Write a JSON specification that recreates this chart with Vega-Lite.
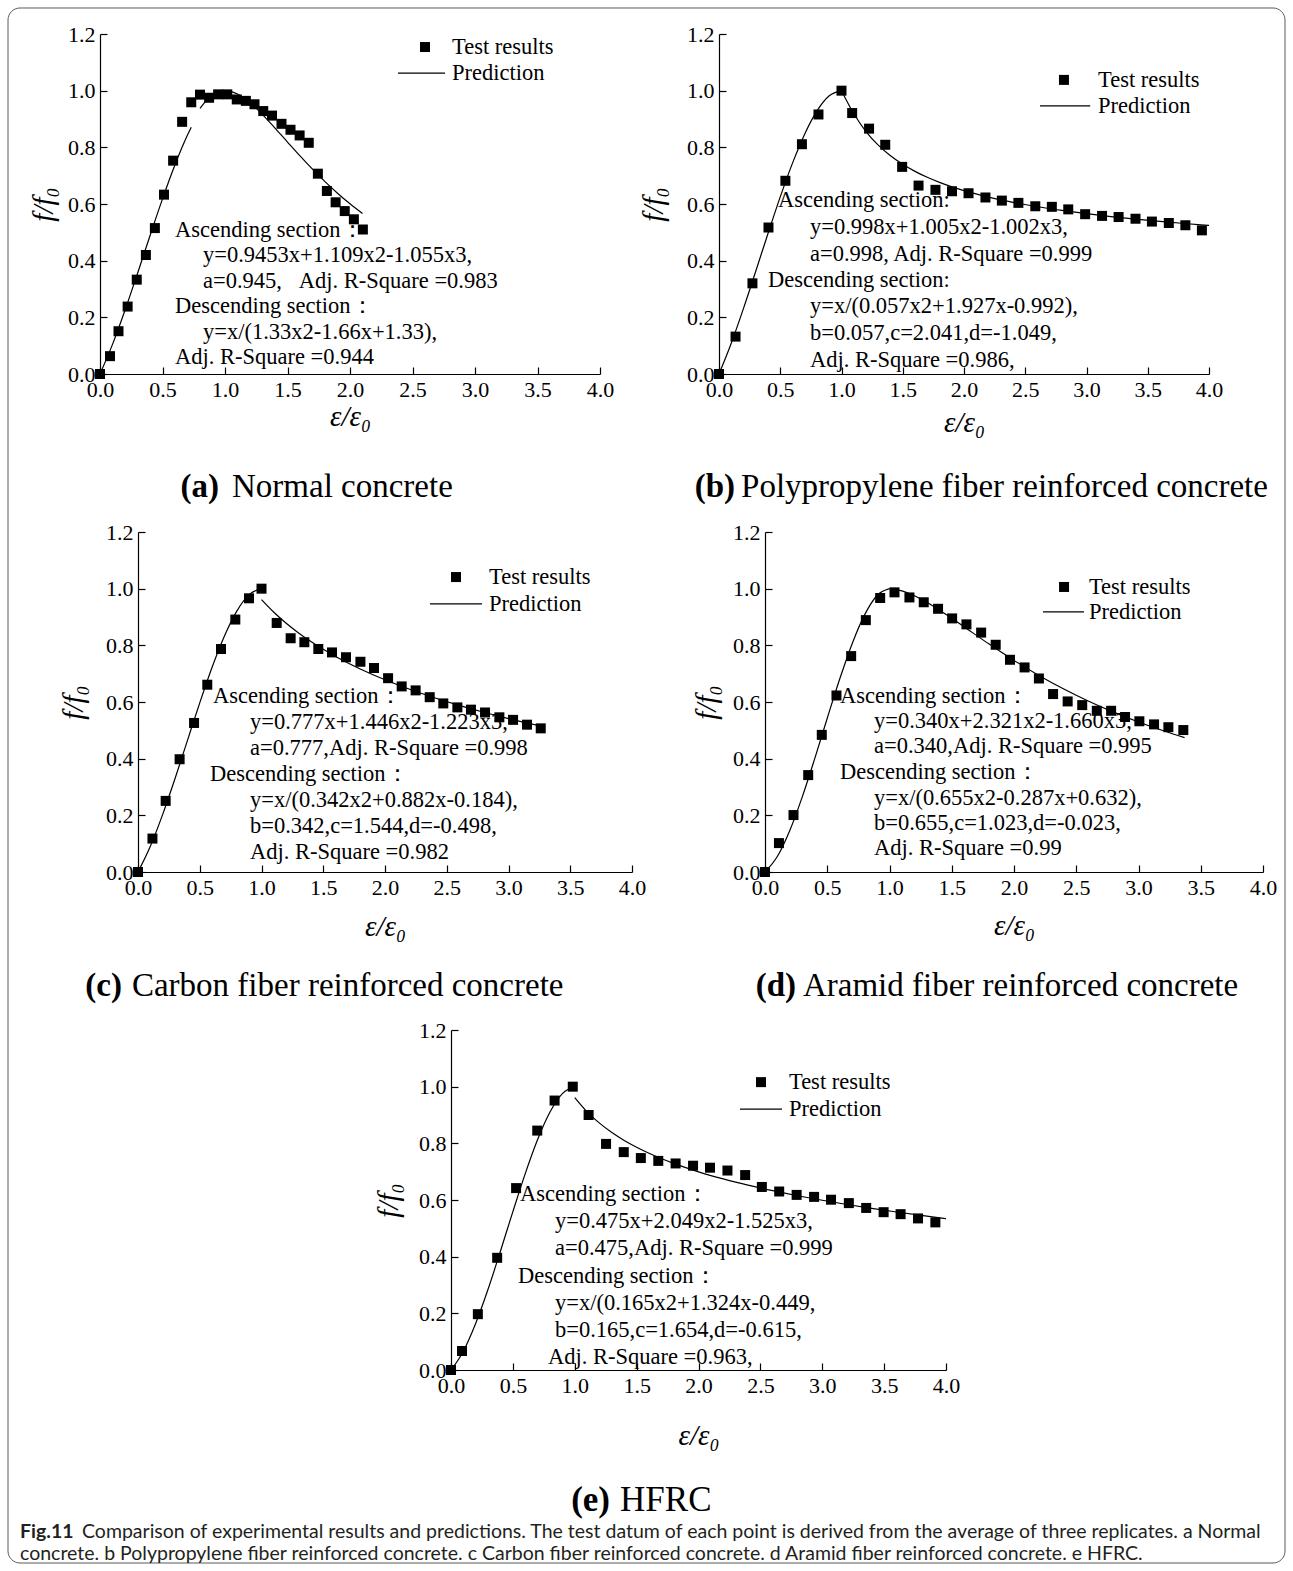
{
  "$schema": "https://vega.github.io/schema/vega-lite/v6.json",
  "padding": 7,
  "background": "white",
  "spacing": 498,
  "bounds": "flush",
  "datasets": {
    "a_test": [
      {"x":0,"y":0},{"x":0.08,"y":0.063},{"x":0.148,"y":0.151},{"x":0.221,"y":0.238},{"x":0.294,"y":0.333},{"x":0.367,"y":0.42},{"x":0.439,"y":0.515},{"x":0.512,"y":0.633},{"x":0.585,"y":0.753},{"x":0.657,"y":0.89},{"x":0.73,"y":0.959},{"x":0.8,"y":0.986},{"x":0.873,"y":0.975},{"x":0.945,"y":0.987},{"x":1.018,"y":0.987},{"x":1.094,"y":0.969},{"x":1.167,"y":0.964},{"x":1.236,"y":0.952},{"x":1.306,"y":0.928},{"x":1.376,"y":0.912},{"x":1.452,"y":0.883},{"x":1.524,"y":0.862},{"x":1.597,"y":0.842},{"x":1.67,"y":0.816},{"x":1.743,"y":0.707},{"x":1.815,"y":0.646},{"x":1.885,"y":0.606},{"x":1.958,"y":0.575},{"x":2.031,"y":0.546},{"x":2.103,"y":0.51}
    ],
    "a_pred": [
      {"x":0,"y":0,"s":"asc"},{"x":0.1,"y":0.1046,"s":"asc"},{"x":0.2,"y":0.225,"s":"asc"},{"x":0.3,"y":0.3549,"s":"asc"},{"x":0.4,"y":0.488,"s":"asc"},{"x":0.5,"y":0.618,"s":"asc"},{"x":0.6,"y":0.7385,"s":"asc"},{"x":0.7,"y":0.8433,"s":"asc"},{"x":0.73,"y":0.8706,"s":"asc"},
      {"x":0.8,"y":0.9377,"s":"desc"},{"x":0.9,"y":0.9854,"s":"desc"},{"x":1.0,"y":1.0,"s":"desc"},{"x":1.1,"y":0.988,"s":"desc"},{"x":1.2,"y":0.9575,"s":"desc"},{"x":1.3,"y":0.9157,"s":"desc"},{"x":1.4,"y":0.8681,"s":"desc"},{"x":1.5,"y":0.8186,"s":"desc"},{"x":1.6,"y":0.7697,"s":"desc"},{"x":1.7,"y":0.7229,"s":"desc"},{"x":1.8,"y":0.6789,"s":"desc"},{"x":1.9,"y":0.6382,"s":"desc"},{"x":2.0,"y":0.6006,"s":"desc"},{"x":2.1,"y":0.5662,"s":"desc"}
    ],
    "b_test": [
      {"x":0,"y":0},{"x":0.135,"y":0.132},{"x":0.273,"y":0.32},{"x":0.404,"y":0.517},{"x":0.542,"y":0.682},{"x":0.677,"y":0.811},{"x":0.812,"y":0.916},{"x":1.0,"y":1.0},{"x":1.087,"y":0.921},{"x":1.225,"y":0.866},{"x":1.357,"y":0.809},{"x":1.495,"y":0.731},{"x":1.629,"y":0.665},{"x":1.767,"y":0.65},{"x":1.902,"y":0.645},{"x":2.037,"y":0.638},{"x":2.175,"y":0.623},{"x":2.309,"y":0.612},{"x":2.444,"y":0.604},{"x":2.582,"y":0.592},{"x":2.717,"y":0.59},{"x":2.851,"y":0.581},{"x":2.989,"y":0.564},{"x":3.127,"y":0.558},{"x":3.262,"y":0.554},{"x":3.4,"y":0.548},{"x":3.534,"y":0.538},{"x":3.672,"y":0.533},{"x":3.807,"y":0.525},{"x":3.942,"y":0.507}
    ],
    "b_pred": [
      {"x":0,"y":0,"s":"asc"},{"x":0.1,"y":0.1088,"s":"asc"},{"x":0.2,"y":0.2318,"s":"asc"},{"x":0.3,"y":0.3628,"s":"asc"},{"x":0.4,"y":0.4959,"s":"asc"},{"x":0.5,"y":0.625,"s":"asc"},{"x":0.6,"y":0.7442,"s":"asc"},{"x":0.7,"y":0.8474,"s":"asc"},{"x":0.8,"y":0.9286,"s":"asc"},{"x":0.9,"y":0.9818,"s":"asc"},{"x":1.0,"y":1.0,"s":"asc"},
      {"x":1.0,"y":1.0,"s":"desc"},{"x":1.1,"y":0.9192,"s":"desc"},{"x":1.2,"y":0.8556,"s":"desc"},{"x":1.3,"y":0.8077,"s":"desc"},{"x":1.4,"y":0.7703,"s":"desc"},{"x":1.5,"y":0.7401,"s":"desc"},{"x":1.6,"y":0.7152,"s":"desc"},{"x":1.7,"y":0.6943,"s":"desc"},{"x":1.8,"y":0.6764,"s":"desc"},{"x":2.0,"y":0.6472,"s":"desc"},{"x":2.2,"y":0.6244,"s":"desc"},{"x":2.4,"y":0.6059,"s":"desc"},{"x":2.6,"y":0.5904,"s":"desc"},{"x":2.8,"y":0.5773,"s":"desc"},{"x":3.0,"y":0.5658,"s":"desc"},{"x":3.2,"y":0.5557,"s":"desc"},{"x":3.4,"y":0.5467,"s":"desc"},{"x":3.6,"y":0.5386,"s":"desc"},{"x":3.8,"y":0.5312,"s":"desc"},{"x":4.0,"y":0.5244,"s":"desc"}
    ],
    "c_test": [
      {"x":0,"y":0},{"x":0.117,"y":0.118},{"x":0.224,"y":0.251},{"x":0.337,"y":0.398},{"x":0.454,"y":0.526},{"x":0.561,"y":0.661},{"x":0.672,"y":0.787},{"x":0.788,"y":0.891},{"x":0.899,"y":0.966},{"x":1.0,"y":1.0},{"x":1.123,"y":0.879},{"x":1.236,"y":0.825},{"x":1.347,"y":0.811},{"x":1.46,"y":0.787},{"x":1.571,"y":0.775},{"x":1.684,"y":0.758},{"x":1.801,"y":0.742},{"x":1.911,"y":0.72},{"x":2.025,"y":0.684},{"x":2.135,"y":0.655},{"x":2.248,"y":0.641},{"x":2.362,"y":0.617},{"x":2.472,"y":0.595},{"x":2.586,"y":0.581},{"x":2.696,"y":0.573},{"x":2.81,"y":0.563},{"x":2.926,"y":0.546},{"x":3.037,"y":0.537},{"x":3.15,"y":0.52},{"x":3.261,"y":0.507}
    ],
    "c_pred": [
      {"x":0,"y":0,"s":"asc"},{"x":0.1,"y":0.0909,"s":"asc"},{"x":0.2,"y":0.2035,"s":"asc"},{"x":0.3,"y":0.3302,"s":"asc"},{"x":0.4,"y":0.4639,"s":"asc"},{"x":0.5,"y":0.5971,"s":"asc"},{"x":0.6,"y":0.7226,"s":"asc"},{"x":0.7,"y":0.833,"s":"asc"},{"x":0.8,"y":0.9209,"s":"asc"},{"x":0.9,"y":0.979,"s":"asc"},{"x":1.0,"y":1.0,"s":"asc"},
      {"x":1.0,"y":0.9615,"s":"desc"},{"x":1.1,"y":0.9167,"s":"desc"},{"x":1.2,"y":0.8779,"s":"desc"},{"x":1.3,"y":0.8438,"s":"desc"},{"x":1.4,"y":0.8134,"s":"desc"},{"x":1.5,"y":0.786,"s":"desc"},{"x":1.6,"y":0.7609,"s":"desc"},{"x":1.8,"y":0.7167,"s":"desc"},{"x":2.0,"y":0.6784,"s":"desc"},{"x":2.2,"y":0.6448,"s":"desc"},{"x":2.4,"y":0.615,"s":"desc"},{"x":2.6,"y":0.5881,"s":"desc"},{"x":2.8,"y":0.5637,"s":"desc"},{"x":3.0,"y":0.5415,"s":"desc"},{"x":3.2,"y":0.5211,"s":"desc"},{"x":3.27,"y":0.5144,"s":"desc"}
    ],
    "d_test": [
      {"x":0,"y":0},{"x":0.112,"y":0.102},{"x":0.229,"y":0.201},{"x":0.347,"y":0.342},{"x":0.456,"y":0.484},{"x":0.574,"y":0.623},{"x":0.692,"y":0.762},{"x":0.81,"y":0.889},{"x":0.925,"y":0.967},{"x":1.04,"y":0.987},{"x":1.16,"y":0.969},{"x":1.275,"y":0.952},{"x":1.39,"y":0.929},{"x":1.503,"y":0.895},{"x":1.618,"y":0.874},{"x":1.736,"y":0.845},{"x":1.853,"y":0.802},{"x":1.968,"y":0.749},{"x":2.085,"y":0.722},{"x":2.2,"y":0.683},{"x":2.314,"y":0.628},{"x":2.431,"y":0.602},{"x":2.548,"y":0.589},{"x":2.665,"y":0.569},{"x":2.78,"y":0.569},{"x":2.892,"y":0.547},{"x":3.007,"y":0.532},{"x":3.125,"y":0.521},{"x":3.24,"y":0.511},{"x":3.36,"y":0.501}
    ],
    "d_pred": [
      {"x":0,"y":0,"s":"asc"},{"x":0.1,"y":0.0556,"s":"asc"},{"x":0.2,"y":0.1476,"s":"asc"},{"x":0.3,"y":0.2661,"s":"asc"},{"x":0.4,"y":0.4011,"s":"asc"},{"x":0.5,"y":0.5428,"s":"asc"},{"x":0.6,"y":0.681,"s":"asc"},{"x":0.7,"y":0.8059,"s":"asc"},{"x":0.8,"y":0.9075,"s":"asc"},{"x":0.9,"y":0.9759,"s":"asc"},{"x":1.0,"y":1.0,"s":"asc"},
      {"x":1.0,"y":1.0,"s":"desc"},{"x":1.1,"y":0.992,"s":"desc"},{"x":1.2,"y":0.975,"s":"desc"},{"x":1.3,"y":0.9518,"s":"desc"},{"x":1.4,"y":0.9247,"s":"desc"},{"x":1.5,"y":0.8954,"s":"desc"},{"x":1.6,"y":0.8651,"s":"desc"},{"x":1.8,"y":0.8044,"s":"desc"},{"x":2.0,"y":0.7468,"s":"desc"},{"x":2.2,"y":0.6938,"s":"desc"},{"x":2.4,"y":0.6459,"s":"desc"},{"x":2.6,"y":0.6027,"s":"desc"},{"x":2.8,"y":0.5641,"s":"desc"},{"x":3.0,"y":0.5295,"s":"desc"},{"x":3.2,"y":0.4984,"s":"desc"},{"x":3.37,"y":0.4744,"s":"desc"}
    ],
    "e_test": [
      {"x":0,"y":0},{"x":0.089,"y":0.067},{"x":0.217,"y":0.197},{"x":0.373,"y":0.396},{"x":0.526,"y":0.642},{"x":0.697,"y":0.845},{"x":0.837,"y":0.951},{"x":0.984,"y":1.0},{"x":1.112,"y":0.9},{"x":1.253,"y":0.798},{"x":1.396,"y":0.769},{"x":1.534,"y":0.748},{"x":1.675,"y":0.738},{"x":1.815,"y":0.729},{"x":1.956,"y":0.721},{"x":2.093,"y":0.714},{"x":2.234,"y":0.704},{"x":2.377,"y":0.688},{"x":2.512,"y":0.646},{"x":2.652,"y":0.63},{"x":2.793,"y":0.618},{"x":2.934,"y":0.611},{"x":3.071,"y":0.601},{"x":3.215,"y":0.589},{"x":3.355,"y":0.572},{"x":3.496,"y":0.557},{"x":3.633,"y":0.55},{"x":3.774,"y":0.535},{"x":3.914,"y":0.521}
    ],
    "e_pred": [
      {"x":0,"y":0,"s":"asc"},{"x":0.1,"y":0.0665,"s":"asc"},{"x":0.2,"y":0.1648,"s":"asc"},{"x":0.3,"y":0.2857,"s":"asc"},{"x":0.4,"y":0.4202,"s":"asc"},{"x":0.5,"y":0.5591,"s":"asc"},{"x":0.6,"y":0.6932,"s":"asc"},{"x":0.7,"y":0.8134,"s":"asc"},{"x":0.8,"y":0.9106,"s":"asc"},{"x":0.9,"y":0.9755,"s":"asc"},{"x":1.0,"y":1.0,"s":"asc"},
      {"x":1.0,"y":0.9615,"s":"desc"},{"x":1.1,"y":0.9113,"s":"desc"},{"x":1.2,"y":0.8712,"s":"desc"},{"x":1.3,"y":0.8381,"s":"desc"},{"x":1.4,"y":0.8102,"s":"desc"},{"x":1.5,"y":0.7861,"s":"desc"},{"x":1.6,"y":0.7649,"s":"desc"},{"x":1.8,"y":0.7291,"s":"desc"},{"x":2.0,"y":0.6995,"s":"desc"},{"x":2.2,"y":0.6743,"s":"desc"},{"x":2.4,"y":0.6524,"s":"desc"},{"x":2.6,"y":0.6328,"s":"desc"},{"x":2.8,"y":0.6151,"s":"desc"},{"x":3.0,"y":0.599,"s":"desc"},{"x":3.2,"y":0.5842,"s":"desc"},{"x":3.4,"y":0.5705,"s":"desc"},{"x":3.6,"y":0.5576,"s":"desc"},{"x":3.8,"y":0.5456,"s":"desc"},{"x":4.0,"y":0.5343,"s":"desc"}
    ]
  },
  "vconcat": [
    {
      "hconcat": [
        {"width": 93, "height": 340, "data": {"values": [{}]}, "mark": {"type": "text", "text": ""}},
        {
          "width": 500, "height": 340,
          "layer": [
            {"data": {"name": "a_pred"}, "mark": {"type": "line", "color": "black", "strokeWidth": 1.2, "interpolate": "monotone"},
             "encoding": {
               "x": {"field": "x", "type": "quantitative", "scale": {"domain": [0, 4], "nice": false, "zero": false},
                     "axis": {"values": [0,0.25,0.5,0.75,1,1.25,1.5,1.75,2,2.25,2.5,2.75,3,3.25,3.5,3.75,4], "format": ".1f", "labelExpr": "(datum.value*2)%1==0 ? datum.label : ''", "tickSize": {"condition": {"test": "(datum.value*2)%1!=0", "value": -4}, "value": -7}, "labelPadding": 12, "labelFlush": false, "labelOverlap": false, "title": "ε/ε₀", "titlePadding": 2}},
               "y": {"field": "y", "type": "quantitative", "scale": {"domain": [0, 1.2], "nice": false, "zero": false},
                     "axis": {"values": [0,0.1,0.2,0.3,0.4,0.5,0.6,0.7,0.8,0.9,1.0,1.1,1.2], "format": ".1f", "labelExpr": "round(datum.value*10)%2==0 ? datum.label : ''", "tickSize": {"condition": {"test": "round(datum.value*10)%2==1", "value": -4}, "value": -7}, "labelPadding": 12, "labelFlush": false, "labelOverlap": false, "title": "f/f₀", "titlePadding": 9.5}},
               "detail": {"field": "s"}
             }},
            {"data": {"name": "a_test"}, "mark": {"type": "square", "size": 100, "color": "black", "opacity": 1},
             "encoding": {"x": {"field": "x", "type": "quantitative"}, "y": {"field": "y", "type": "quantitative"}}},
            {"data": {"values": [{}]}, "mark": {"type": "square", "size": 100, "color": "black", "opacity": 1},
             "encoding": {"x": {"datum": 2.6}, "y": {"datum": 1.154}}},
            {"data": {"values": [{}]}, "mark": {"type": "rule", "color": "black", "strokeWidth": 1.2},
             "encoding": {"x": {"datum": 2.384}, "x2": {"datum": 2.76}, "y": {"datum": 1.062}}},
            {"data": {"values": [{}]}, "mark": {"type": "text", "align": "left", "baseline": "middle", "fontSize": 22.5, "lineHeight": 26, "color": "black"},
             "encoding": {"x": {"datum": 2.816}, "y": {"datum": 1.154}, "text": {"value": ["Test results", "Prediction"]}}},
            {"data": {"values": [{}]}, "mark": {"type": "text", "align": "left", "baseline": "middle", "fontSize": 22.5, "color": "black"},
             "encoding": {"x": {"datum": 0.6}, "y": {"datum": 0.5082}, "text": {"value": "Ascending section："}}},
            {"data": {"values": [{}]}, "mark": {"type": "text", "align": "left", "baseline": "middle", "fontSize": 22.5, "lineHeight": 25.5, "color": "black"},
             "encoding": {"x": {"datum": 0.824}, "y": {"datum": 0.42}, "text": {"value": ["y=0.9453x+1.109x2-1.055x3,", "a=0.945,\u00a0\u00a0\u00a0Adj. R-Square =0.983"]}}},
            {"data": {"values": [{}]}, "mark": {"type": "text", "align": "left", "baseline": "middle", "fontSize": 22.5, "color": "black"},
             "encoding": {"x": {"datum": 0.6}, "y": {"datum": 0.24}, "text": {"value": "Descending section："}}},
            {"data": {"values": [{}]}, "mark": {"type": "text", "align": "left", "baseline": "middle", "fontSize": 22.5, "color": "black"},
             "encoding": {"x": {"datum": 0.824}, "y": {"datum": 0.1482}, "text": {"value": "y=x/(1.33x2-1.66x+1.33),"}}},
            {"data": {"values": [{}]}, "mark": {"type": "text", "align": "left", "baseline": "middle", "fontSize": 22.5, "color": "black"},
             "encoding": {"x": {"datum": 0.6}, "y": {"datum": 0.06}, "text": {"value": "Adj. R-Square =0.944"}}},
            {"data": {"values": [{}]}, "mark": {"type": "text", "align": "right", "baseline": "middle", "fontSize": 33, "fontWeight": "bold", "color": "black"},
             "encoding": {"x": {"datum": 0.952}, "y": {"datum": -0.399}, "text": {"value": "(a)"}}},
            {"data": {"values": [{}]}, "mark": {"type": "text", "align": "left", "baseline": "middle", "fontSize": 33, "color": "black"},
             "encoding": {"x": {"datum": 1.056}, "y": {"datum": -0.399}, "text": {"value": "Normal concrete"}}},
            {"data": {"values": [{}]}, "mark": {"type": "rect", "filled": false, "stroke": "#5a5a5a", "strokeWidth": 1, "cornerRadius": 12},
             "encoding": {"x": {"datum": -0.736}, "x2": {"datum": 9.48}, "y": {"datum": 1.2918}, "y2": {"datum": -4.1965}}}
          ]
        },
        {"width": 119, "height": 340, "data": {"values": [{}]}, "mark": {"type": "text", "text": ""}},
        {
          "width": 490, "height": 340,
          "layer": [
            {"data": {"name": "b_pred"}, "mark": {"type": "line", "color": "black", "strokeWidth": 1.2, "interpolate": "monotone"},
             "encoding": {
               "x": {"field": "x", "type": "quantitative", "scale": {"domain": [0, 4], "nice": false, "zero": false},
                     "axis": {"values": [0,0.25,0.5,0.75,1,1.25,1.5,1.75,2,2.25,2.5,2.75,3,3.25,3.5,3.75,4], "format": ".1f", "labelExpr": "(datum.value*2)%1==0 ? datum.label : ''", "tickSize": {"condition": {"test": "(datum.value*2)%1!=0", "value": -4}, "value": -7}, "labelPadding": 12, "labelFlush": false, "labelOverlap": false, "title": "ε/ε₀", "titlePadding": 8}},
               "y": {"field": "y", "type": "quantitative", "scale": {"domain": [0, 1.2], "nice": false, "zero": false},
                     "axis": {"values": [0,0.1,0.2,0.3,0.4,0.5,0.6,0.7,0.8,0.9,1.0,1.1,1.2], "format": ".1f", "labelExpr": "round(datum.value*10)%2==0 ? datum.label : ''", "tickSize": {"condition": {"test": "round(datum.value*10)%2==1", "value": -4}, "value": -7}, "labelPadding": 12, "labelFlush": false, "labelOverlap": false, "title": "f/f₀", "titlePadding": 18.5}},
               "detail": {"field": "s"}
             }},
            {"data": {"name": "b_test"}, "mark": {"type": "square", "size": 100, "color": "black", "opacity": 1},
             "encoding": {"x": {"field": "x", "type": "quantitative"}, "y": {"field": "y", "type": "quantitative"}}},
            {"data": {"values": [{}]}, "mark": {"type": "square", "size": 100, "color": "black", "opacity": 1},
             "encoding": {"x": {"datum": 2.816}, "y": {"datum": 1.038}}},
            {"data": {"values": [{}]}, "mark": {"type": "rule", "color": "black", "strokeWidth": 1.2},
             "encoding": {"x": {"datum": 2.62}, "x2": {"datum": 3.03}, "y": {"datum": 0.946}}},
            {"data": {"values": [{}]}, "mark": {"type": "text", "align": "left", "baseline": "middle", "fontSize": 22.5, "lineHeight": 26, "color": "black"},
             "encoding": {"x": {"datum": 3.094}, "y": {"datum": 1.038}, "text": {"value": ["Test results", "Prediction"]}}},
            {"data": {"values": [{}]}, "mark": {"type": "text", "align": "left", "baseline": "middle", "fontSize": 22.5, "color": "black"},
             "encoding": {"x": {"datum": 0.4816}, "y": {"datum": 0.6141}, "text": {"value": "Ascending section:"}}},
            {"data": {"values": [{}]}, "mark": {"type": "text", "align": "left", "baseline": "middle", "fontSize": 22.5, "lineHeight": 27, "color": "black"},
             "encoding": {"x": {"datum": 0.7429}, "y": {"datum": 0.5188}, "text": {"value": ["y=0.998x+1.005x2-1.002x3,", "a=0.998, Adj. R-Square =0.999"]}}},
            {"data": {"values": [{}]}, "mark": {"type": "text", "align": "left", "baseline": "middle", "fontSize": 22.5, "color": "black"},
             "encoding": {"x": {"datum": 0.4}, "y": {"datum": 0.3318}, "text": {"value": "Descending section:"}}},
            {"data": {"values": [{}]}, "mark": {"type": "text", "align": "left", "baseline": "middle", "fontSize": 22.5, "lineHeight": 27, "color": "black"},
             "encoding": {"x": {"datum": 0.7429}, "y": {"datum": 0.24}, "text": {"value": ["y=x/(0.057x2+1.927x-0.992),", "b=0.057,c=2.041,d=-1.049,", "Adj. R-Square =0.986,"]}}},
            {"data": {"values": [{}]}, "mark": {"type": "text", "align": "right", "baseline": "middle", "fontSize": 33, "fontWeight": "bold", "color": "black"},
             "encoding": {"x": {"datum": 0.131}, "y": {"datum": -0.399}, "text": {"value": "(b)"}}},
            {"data": {"values": [{}]}, "mark": {"type": "text", "align": "left", "baseline": "middle", "fontSize": 33, "color": "black"},
             "encoding": {"x": {"datum": 0.18}, "y": {"datum": -0.399}, "text": {"value": "Polypropylene fiber reinforced concrete"}}}
          ]
        }
      ],
      "spacing": 0,
      "bounds": "flush"
    },
    {
      "hconcat": [
        {"width": 131, "height": 340, "data": {"values": [{}]}, "mark": {"type": "text", "text": ""}},
        {
          "width": 494, "height": 340,
          "layer": [
            {"data": {"name": "c_pred"}, "mark": {"type": "line", "color": "black", "strokeWidth": 1.2, "interpolate": "monotone"},
             "encoding": {
               "x": {"field": "x", "type": "quantitative", "scale": {"domain": [0, 4], "nice": false, "zero": false},
                     "axis": {"values": [0,0.25,0.5,0.75,1,1.25,1.5,1.75,2,2.25,2.5,2.75,3,3.25,3.5,3.75,4], "format": ".1f", "labelExpr": "(datum.value*2)%1==0 ? datum.label : ''", "tickSize": {"condition": {"test": "(datum.value*2)%1!=0", "value": -4}, "value": -7}, "labelPadding": 12, "labelFlush": false, "labelOverlap": false, "title": "ε/ε₀", "titlePadding": 14}},
               "y": {"field": "y", "type": "quantitative", "scale": {"domain": [0, 1.2], "nice": false, "zero": false},
                     "axis": {"values": [0,0.1,0.2,0.3,0.4,0.5,0.6,0.7,0.8,0.9,1.0,1.1,1.2], "format": ".1f", "labelExpr": "round(datum.value*10)%2==0 ? datum.label : ''", "tickSize": {"condition": {"test": "round(datum.value*10)%2==1", "value": -4}, "value": -7}, "labelPadding": 12, "labelFlush": false, "labelOverlap": false, "title": "f/f₀", "titlePadding": 17.5}},
               "detail": {"field": "s"}
             }},
            {"data": {"name": "c_test"}, "mark": {"type": "square", "size": 100, "color": "black", "opacity": 1},
             "encoding": {"x": {"field": "x", "type": "quantitative"}, "y": {"field": "y", "type": "quantitative"}}},
            {"data": {"values": [{}]}, "mark": {"type": "square", "size": 100, "color": "black", "opacity": 1},
             "encoding": {"x": {"datum": 2.575}, "y": {"datum": 1.041}}},
            {"data": {"values": [{}]}, "mark": {"type": "rule", "color": "black", "strokeWidth": 1.2},
             "encoding": {"x": {"datum": 2.364}, "x2": {"datum": 2.785}, "y": {"datum": 0.946}}},
            {"data": {"values": [{}]}, "mark": {"type": "text", "align": "left", "baseline": "middle", "fontSize": 22.5, "lineHeight": 27, "color": "black"},
             "encoding": {"x": {"datum": 2.842}, "y": {"datum": 1.041}, "text": {"value": ["Test results", "Prediction"]}}},
            {"data": {"values": [{}]}, "mark": {"type": "text", "align": "left", "baseline": "middle", "fontSize": 22.5, "color": "black"},
             "encoding": {"x": {"datum": 0.6073}, "y": {"datum": 0.6212}, "text": {"value": "Ascending section："}}},
            {"data": {"values": [{}]}, "mark": {"type": "text", "align": "left", "baseline": "middle", "fontSize": 22.5, "lineHeight": 26, "color": "black"},
             "encoding": {"x": {"datum": 0.9069}, "y": {"datum": 0.5294}, "text": {"value": ["y=0.777x+1.446x2-1.223x3,", "a=0.777,Adj. R-Square =0.998"]}}},
            {"data": {"values": [{}]}, "mark": {"type": "text", "align": "left", "baseline": "middle", "fontSize": 22.5, "color": "black"},
             "encoding": {"x": {"datum": 0.583}, "y": {"datum": 0.3459}, "text": {"value": "Descending section："}}},
            {"data": {"values": [{}]}, "mark": {"type": "text", "align": "left", "baseline": "middle", "fontSize": 22.5, "lineHeight": 26, "color": "black"},
             "encoding": {"x": {"datum": 0.9069}, "y": {"datum": 0.2541}, "text": {"value": ["y=x/(0.342x2+0.882x-0.184),", "b=0.342,c=1.544,d=-0.498,", "Adj. R-Square =0.982"]}}},
            {"data": {"values": [{}]}, "mark": {"type": "text", "align": "right", "baseline": "middle", "fontSize": 33, "fontWeight": "bold", "color": "black"},
             "encoding": {"x": {"datum": -0.13}, "y": {"datum": -0.402}, "text": {"value": "(c)"}}},
            {"data": {"values": [{}]}, "mark": {"type": "text", "align": "left", "baseline": "middle", "fontSize": 33, "color": "black"},
             "encoding": {"x": {"datum": -0.049}, "y": {"datum": -0.402}, "text": {"value": "Carbon fiber reinforced concrete"}}}
          ]
        },
        {"width": 133, "height": 340, "data": {"values": [{}]}, "mark": {"type": "text", "text": ""}},
        {
          "width": 498, "height": 340,
          "layer": [
            {"data": {"name": "d_pred"}, "mark": {"type": "line", "color": "black", "strokeWidth": 1.2, "interpolate": "monotone"},
             "encoding": {
               "x": {"field": "x", "type": "quantitative", "scale": {"domain": [0, 4], "nice": false, "zero": false},
                     "axis": {"values": [0,0.25,0.5,0.75,1,1.25,1.5,1.75,2,2.25,2.5,2.75,3,3.25,3.5,3.75,4], "format": ".1f", "labelExpr": "(datum.value*2)%1==0 ? datum.label : ''", "tickSize": {"condition": {"test": "(datum.value*2)%1!=0", "value": -4}, "value": -7}, "labelPadding": 12, "labelFlush": false, "labelOverlap": false, "title": "ε/ε₀", "titlePadding": 13}},
               "y": {"field": "y", "type": "quantitative", "scale": {"domain": [0, 1.2], "nice": false, "zero": false},
                     "axis": {"values": [0,0.1,0.2,0.3,0.4,0.5,0.6,0.7,0.8,0.9,1.0,1.1,1.2], "format": ".1f", "labelExpr": "round(datum.value*10)%2==0 ? datum.label : ''", "tickSize": {"condition": {"test": "round(datum.value*10)%2==1", "value": -4}, "value": -7}, "labelPadding": 12, "labelFlush": false, "labelOverlap": false, "title": "f/f₀", "titlePadding": 11.5}},
               "detail": {"field": "s"}
             }},
            {"data": {"name": "d_test"}, "mark": {"type": "square", "size": 100, "color": "black", "opacity": 1},
             "encoding": {"x": {"field": "x", "type": "quantitative"}, "y": {"field": "y", "type": "quantitative"}}},
            {"data": {"values": [{}]}, "mark": {"type": "square", "size": 100, "color": "black", "opacity": 1},
             "encoding": {"x": {"datum": 2.402}, "y": {"datum": 1.006}}},
            {"data": {"values": [{}]}, "mark": {"type": "rule", "color": "black", "strokeWidth": 1.2},
             "encoding": {"x": {"datum": 2.233}, "x2": {"datum": 2.562}, "y": {"datum": 0.918}}},
            {"data": {"values": [{}]}, "mark": {"type": "text", "align": "left", "baseline": "middle", "fontSize": 22.5, "lineHeight": 25, "color": "black"},
             "encoding": {"x": {"datum": 2.602}, "y": {"datum": 1.006}, "text": {"value": ["Test results", "Prediction"]}}},
            {"data": {"values": [{}]}, "mark": {"type": "text", "align": "left", "baseline": "middle", "fontSize": 22.5, "color": "black"},
             "encoding": {"x": {"datum": 0.6024}, "y": {"datum": 0.6212}, "text": {"value": "Ascending section："}}},
            {"data": {"values": [{}]}, "mark": {"type": "text", "align": "left", "baseline": "middle", "fontSize": 22.5, "lineHeight": 25, "color": "black"},
             "encoding": {"x": {"datum": 0.8755}, "y": {"datum": 0.5329}, "text": {"value": ["y=0.340x+2.321x2-1.660x3,", "a=0.340,Adj. R-Square =0.995"]}}},
            {"data": {"values": [{}]}, "mark": {"type": "text", "align": "left", "baseline": "middle", "fontSize": 22.5, "color": "black"},
             "encoding": {"x": {"datum": 0.6024}, "y": {"datum": 0.3529}, "text": {"value": "Descending section："}}},
            {"data": {"values": [{}]}, "mark": {"type": "text", "align": "left", "baseline": "middle", "fontSize": 22.5, "lineHeight": 25, "color": "black"},
             "encoding": {"x": {"datum": 0.8755}, "y": {"datum": 0.2612}, "text": {"value": ["y=x/(0.655x2-0.287x+0.632),", "b=0.655,c=1.023,d=-0.023,", "Adj. R-Square =0.99"]}}},
            {"data": {"values": [{}]}, "mark": {"type": "text", "align": "right", "baseline": "middle", "fontSize": 33, "fontWeight": "bold", "color": "black"},
             "encoding": {"x": {"datum": 0.249}, "y": {"datum": -0.402}, "text": {"value": "(d)"}}},
            {"data": {"values": [{}]}, "mark": {"type": "text", "align": "left", "baseline": "middle", "fontSize": 33, "color": "black"},
             "encoding": {"x": {"datum": 0.305}, "y": {"datum": -0.402}, "text": {"value": "Aramid fiber reinforced concrete"}}}
          ]
        }
      ],
      "spacing": 0,
      "bounds": "flush"
    },
    {
      "hconcat": [
        {"width": 444, "height": 340, "data": {"values": [{}]}, "mark": {"type": "text", "text": ""}},
        {
          "width": 495, "height": 340,
          "layer": [
            {"data": {"name": "e_pred"}, "mark": {"type": "line", "color": "black", "strokeWidth": 1.2, "interpolate": "monotone"},
             "encoding": {
               "x": {"field": "x", "type": "quantitative", "scale": {"domain": [0, 4], "nice": false, "zero": false},
                     "axis": {"values": [0,0.25,0.5,0.75,1,1.25,1.5,1.75,2,2.25,2.5,2.75,3,3.25,3.5,3.75,4], "format": ".1f", "labelExpr": "(datum.value*2)%1==0 ? datum.label : ''", "tickSize": {"condition": {"test": "(datum.value*2)%1!=0", "value": -4}, "value": -7}, "labelPadding": 12, "labelFlush": false, "labelOverlap": false, "title": "ε/ε₀", "titlePadding": 25}},
               "y": {"field": "y", "type": "quantitative", "scale": {"domain": [0, 1.2], "nice": false, "zero": false},
                     "axis": {"values": [0,0.1,0.2,0.3,0.4,0.5,0.6,0.7,0.8,0.9,1.0,1.1,1.2], "format": ".1f", "labelExpr": "round(datum.value*10)%2==0 ? datum.label : ''", "tickSize": {"condition": {"test": "round(datum.value*10)%2==1", "value": -4}, "value": -7}, "labelPadding": 12, "labelFlush": false, "labelOverlap": false, "title": "f/f₀", "titlePadding": 15.5}},
               "detail": {"field": "s"}
             }},
            {"data": {"name": "e_test"}, "mark": {"type": "square", "size": 100, "color": "black", "opacity": 1},
             "encoding": {"x": {"field": "x", "type": "quantitative"}, "y": {"field": "y", "type": "quantitative"}}},
            {"data": {"values": [{}]}, "mark": {"type": "square", "size": 100, "color": "black", "opacity": 1},
             "encoding": {"x": {"datum": 2.505}, "y": {"datum": 1.016}}},
            {"data": {"values": [{}]}, "mark": {"type": "rule", "color": "black", "strokeWidth": 1.2},
             "encoding": {"x": {"datum": 2.335}, "x2": {"datum": 2.675}, "y": {"datum": 0.921}}},
            {"data": {"values": [{}]}, "mark": {"type": "text", "align": "left", "baseline": "middle", "fontSize": 22.5, "lineHeight": 27, "color": "black"},
             "encoding": {"x": {"datum": 2.731}, "y": {"datum": 1.016}, "text": {"value": ["Test results", "Prediction"]}}},
            {"data": {"values": [{}]}, "mark": {"type": "text", "align": "left", "baseline": "middle", "fontSize": 22.5, "color": "black"},
             "encoding": {"x": {"datum": 0.5576}, "y": {"datum": 0.6212}, "text": {"value": "Ascending section："}}},
            {"data": {"values": [{}]}, "mark": {"type": "text", "align": "left", "baseline": "middle", "fontSize": 22.5, "lineHeight": 27, "color": "black"},
             "encoding": {"x": {"datum": 0.8404}, "y": {"datum": 0.5259}, "text": {"value": ["y=0.475x+2.049x2-1.525x3,", "a=0.475,Adj. R-Square =0.999"]}}},
            {"data": {"values": [{}]}, "mark": {"type": "text", "align": "left", "baseline": "middle", "fontSize": 22.5, "color": "black"},
             "encoding": {"x": {"datum": 0.5414}, "y": {"datum": 0.3318}, "text": {"value": "Descending section："}}},
            {"data": {"values": [{}]}, "mark": {"type": "text", "align": "left", "baseline": "middle", "fontSize": 22.5, "lineHeight": 27, "color": "black"},
             "encoding": {"x": {"datum": 0.8404}, "y": {"datum": 0.2365}, "text": {"value": ["y=x/(0.165x2+1.324x-0.449,", "b=0.165,c=1.654,d=-0.615,"]}}},
            {"data": {"values": [{}]}, "mark": {"type": "text", "align": "left", "baseline": "middle", "fontSize": 22.5, "color": "black"},
             "encoding": {"x": {"datum": 0.7838}, "y": {"datum": 0.0459}, "text": {"value": "Adj. R-Square =0.963,"}}},
            {"data": {"values": [{}]}, "mark": {"type": "text", "align": "right", "baseline": "middle", "fontSize": 35, "fontWeight": "bold", "color": "black"},
             "encoding": {"x": {"datum": 1.285}, "y": {"datum": -0.459}, "text": {"value": "(e)"}}},
            {"data": {"values": [{}]}, "mark": {"type": "text", "align": "left", "baseline": "middle", "fontSize": 35, "color": "black"},
             "encoding": {"x": {"datum": 1.366}, "y": {"datum": -0.459}, "text": {"value": "HFRC"}}},
            {"data": {"values": [{}]}, "mark": {"type": "text", "align": "left", "baseline": "middle", "fontSize": 19.5, "fontWeight": "bold", "font": "Lato", "color": "#231f20"},
             "encoding": {"x": {"datum": -3.4828}, "y": {"datum": -0.57}, "text": {"value": "Fig.11"}}},
            {"data": {"values": [{}]}, "mark": {"type": "text", "align": "left", "baseline": "middle", "fontSize": 19.5, "font": "Lato", "color": "#231f20"},
             "encoding": {"x": {"datum": -2.9818}, "y": {"datum": -0.57}, "text": {"value": "Comparison of experimental results and predictions. The test datum of each point is derived from the average of three replicates. a Normal"}}},
            {"data": {"values": [{}]}, "mark": {"type": "text", "align": "left", "baseline": "middle", "fontSize": 19.5, "font": "Lato", "color": "#231f20"},
             "encoding": {"x": {"datum": -3.4828}, "y": {"datum": -0.651}, "text": {"value": "concrete. b Polypropylene fiber reinforced concrete. c Carbon fiber reinforced concrete. d Aramid fiber reinforced concrete. e HFRC."}}}
          ]
        }
      ],
      "spacing": 0,
      "bounds": "flush"
    }
  ],
  "config": {
    "view": {"stroke": null},
    "text": {"font": "Liberation Serif"},
    "axis": {
      "grid": false,
      "domainColor": "black",
      "domainWidth": 1.2,
      "tickColor": "black",
      "tickWidth": 1.2,
      "labelColor": "black",
      "labelFont": "Liberation Serif",
      "labelFontSize": 22,
      "titleColor": "black",
      "titleFont": "Liberation Serif",
      "titleFontSize": 29,
      "titleFontWeight": "normal",
      "titleFontStyle": "italic"
    }
  }
}
